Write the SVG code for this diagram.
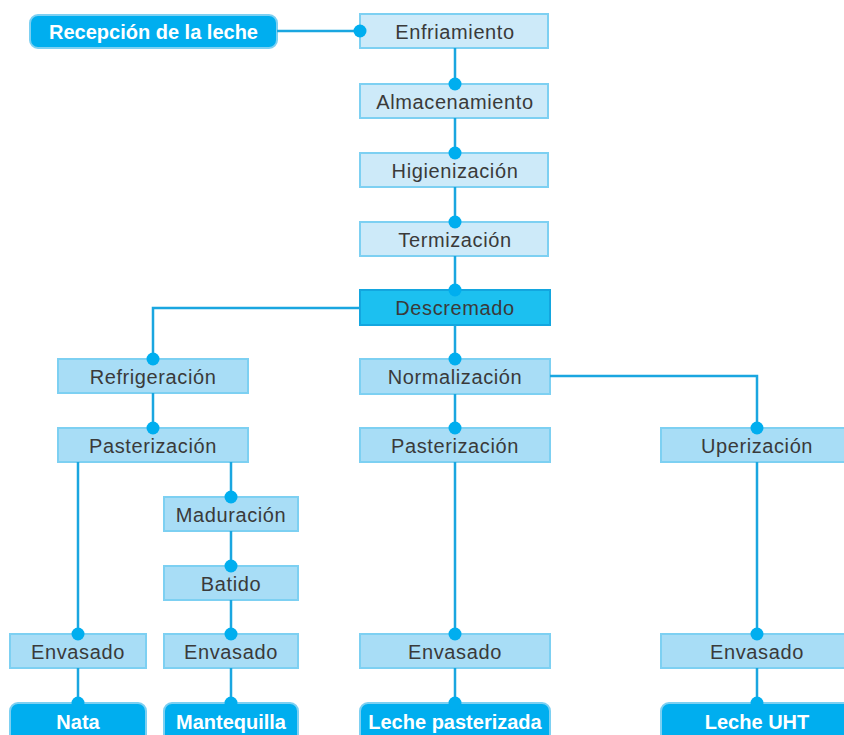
<svg xmlns="http://www.w3.org/2000/svg" width="844" height="735" viewBox="0 0 844 735">
  <style>
    .pale { fill: #cdeaf9; stroke: #7dd0f2; stroke-width: 2; }
    .step { fill: #a8ddf6; stroke: #7dd0f2; stroke-width: 2; }
    .key { fill: #1cc0f0; stroke: #13a6df; stroke-width: 2; }
    .end { fill: #00aeef; stroke: #7dd0f2; stroke-width: 2; }
    .lbl { font-family: "Liberation Sans", Arial, sans-serif; font-size: 20px; letter-spacing: 0.6px; fill: #3a3a3a; text-anchor: middle; }
    .out { font-family: "Liberation Sans", Arial, sans-serif; font-size: 20px; font-weight: bold; fill: #ffffff; text-anchor: middle; }
    .wire { fill: none; stroke: #1aa6e0; stroke-width: 2.5; }
    .dot { fill: #00aeef; }
  </style>

  <!-- start -->
  <g id="recepcion">
    <rect class="end" x="30" y="15" width="247" height="33" rx="8"/>
    <text class="out" x="153.5" y="38.5">Recepción de la leche</text>
  </g>

  <!-- main line -->
  <g id="enfriamiento">
    <rect class="pale" x="360" y="14" width="188" height="34"/>
    <text class="lbl" x="455" y="38.5">Enfriamiento</text>
  </g>
  <g id="almacenamiento">
    <rect class="pale" x="360" y="84" width="188" height="34"/>
    <text class="lbl" x="455" y="108.5">Almacenamiento</text>
  </g>
  <g id="higienizacion">
    <rect class="pale" x="360" y="153" width="188" height="34"/>
    <text class="lbl" x="455" y="177.5">Higienización</text>
  </g>
  <g id="termizacion">
    <rect class="pale" x="360" y="222" width="188" height="34"/>
    <text class="lbl" x="455" y="246.5">Termización</text>
  </g>
  <g id="descremado">
    <rect class="key" x="360" y="290" width="190" height="35"/>
    <text class="lbl" x="455" y="315">Descremado</text>
  </g>

  <!-- cream branch -->
  <g id="refrigeracion">
    <rect class="step" x="58" y="359" width="190" height="34"/>
    <text class="lbl" x="153" y="383.5">Refrigeración</text>
  </g>
  <g id="pasterizacion-nata">
    <rect class="step" x="58" y="428" width="190" height="34"/>
    <text class="lbl" x="153" y="452.5">Pasterización</text>
  </g>
  <g id="maduracion">
    <rect class="step" x="164" y="497" width="134" height="34"/>
    <text class="lbl" x="231" y="521.5">Maduración</text>
  </g>
  <g id="batido">
    <rect class="step" x="164" y="566" width="134" height="34"/>
    <text class="lbl" x="231" y="590.5">Batido</text>
  </g>
  <g id="envasado-nata">
    <rect class="step" x="10" y="634" width="136" height="34"/>
    <text class="lbl" x="78" y="658.5">Envasado</text>
  </g>
  <g id="envasado-mantequilla">
    <rect class="step" x="164" y="634" width="134" height="34"/>
    <text class="lbl" x="231" y="658.5">Envasado</text>
  </g>
  <g id="nata">
    <rect class="end" x="10" y="703" width="136" height="40" rx="8"/>
    <text class="out" x="78" y="729">Nata</text>
  </g>
  <g id="mantequilla">
    <rect class="end" x="164" y="703" width="134" height="40" rx="8"/>
    <text class="out" x="231" y="729">Mantequilla</text>
  </g>

  <!-- milk branch -->
  <g id="normalizacion">
    <rect class="step" x="360" y="359" width="190" height="35"/>
    <text class="lbl" x="455" y="384">Normalización</text>
  </g>
  <g id="pasterizacion-leche">
    <rect class="step" x="360" y="428" width="190" height="34"/>
    <text class="lbl" x="455" y="452.5">Pasterización</text>
  </g>
  <g id="envasado-pasterizada">
    <rect class="step" x="360" y="634" width="190" height="34"/>
    <text class="lbl" x="455" y="658.5">Envasado</text>
  </g>
  <g id="leche-pasterizada">
    <rect class="end" x="360" y="703" width="190" height="40" rx="8"/>
    <text class="out" x="455" y="729">Leche pasterizada</text>
  </g>

  <!-- UHT branch -->
  <g id="uperizacion">
    <rect class="step" x="661" y="428" width="192" height="34"/>
    <text class="lbl" x="757" y="452.5">Uperización</text>
  </g>
  <g id="envasado-uht">
    <rect class="step" x="661" y="634" width="192" height="34"/>
    <text class="lbl" x="757" y="658.5">Envasado</text>
  </g>
  <g id="leche-uht">
    <rect class="end" x="661" y="703" width="192" height="40" rx="8"/>
    <text class="out" x="757" y="729">Leche UHT</text>
  </g>

  <!-- connectors, drawn last so the joint dots sit on the box edges -->
  <g id="connectors">
    <path class="wire" d="M277 31 H360"/>
    <path class="wire" d="M455 48 V84 M455 118 V153 M455 187 V222 M455 256 V290 M455 325 V359 M455 394 V428 M455 462 V634 M455 668 V703"/>
    <path class="wire" d="M360 308 H153 V359 M153 393 V428"/>
    <path class="wire" d="M550 376 H757 V428 M757 462 V634 M757 668 V703"/>
    <path class="wire" d="M78 462 V634 M78 668 V703"/>
    <path class="wire" d="M231 462 V497 M231 531 V566 M231 600 V634 M231 668 V703"/>
    <g class="dot">
      <circle cx="360" cy="31" r="6.5"/>
      <circle cx="455" cy="84" r="6.5"/>
      <circle cx="455" cy="153" r="6.5"/>
      <circle cx="455" cy="222" r="6.5"/>
      <circle cx="455" cy="290" r="6.5"/>
      <circle cx="455" cy="359" r="6.5"/>
      <circle cx="455" cy="428" r="6.5"/>
      <circle cx="455" cy="634" r="6.5"/>
      <circle cx="455" cy="703" r="6.5"/>
      <circle cx="153" cy="359" r="6.5"/>
      <circle cx="153" cy="428" r="6.5"/>
      <circle cx="757" cy="428" r="6.5"/>
      <circle cx="757" cy="634" r="6.5"/>
      <circle cx="757" cy="703" r="6.5"/>
      <circle cx="78" cy="634" r="6.5"/>
      <circle cx="78" cy="703" r="6.5"/>
      <circle cx="231" cy="497" r="6.5"/>
      <circle cx="231" cy="566" r="6.5"/>
      <circle cx="231" cy="634" r="6.5"/>
      <circle cx="231" cy="703" r="6.5"/>
    </g>
  </g>
</svg>
